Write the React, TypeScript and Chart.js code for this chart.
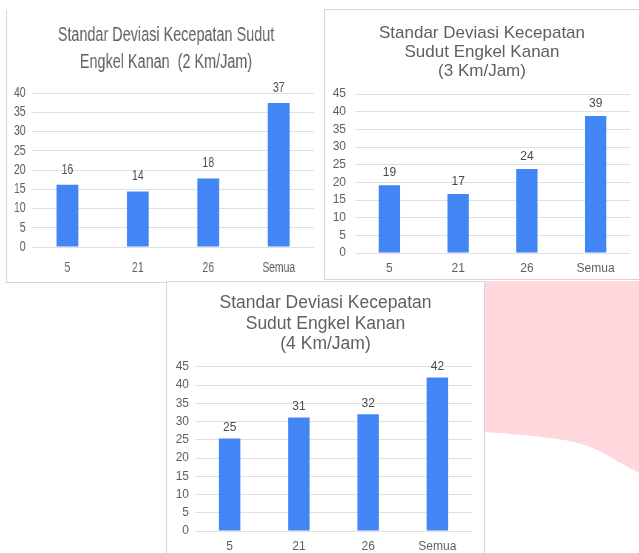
import React, { useEffect, useRef } from "react";
import { Chart, registerables } from "chart.js";

Chart.register(...registerables);

const categories = ["5", "21", "26", "Semua"];
const values2kmh = [16.2, 14.4, 17.8, 37.4];
const values3kmh = [19.2, 16.7, 23.8, 38.8];
const values4kmh = [25.4, 31.1, 32.0, 42.1];
const title2kmh = ["Standar Deviasi Kecepatan Sudut", "Engkel Kanan  (2 Km/Jam)"];
const title3kmh = ["Standar Deviasi Kecepatan", "Sudut Engkel Kanan", "(3 Km/Jam)"];
const title4kmh = ["Standar Deviasi Kecepatan", "Sudut Engkel Kanan", "(4 Km/Jam)"];
const yMax2kmh = 40;
const yMax3kmh = 45;
const yMax4kmh = 45;
const yStep = 5;

const BAR_COLOR = "#4285F4";
const GRID_COLOR = "#e0e0e0";
const TEXT_COLOR = "#5f5f5f";
const BORDER = "1px solid #d6d6d6";
const SANS = "'Liberation Sans', Arial, sans-serif";

type Spec = {
  width: number;
  height: number;
  cssWidth: number;
  title: string[];
  values: number[];
  yMax: number;
  titleSize: number;
  titleLH: number;
  titlePadTop: number;
  titlePadBottom: number;
  padRight: number;
  yWidth: number;
  yPad: number;
  xHeight: number;
  xPad: number;
  tickSize: number;
  labelSize: number;
  labelOffset: number;
};

const valueLabels = {
  id: "valueLabels",
  afterDatasetsDraw(chart: any, _args: any, opts: any) {
    const ctx = chart.ctx;
    ctx.save();
    ctx.font = `normal ${opts.size}px ${SANS}`;
    ctx.fillStyle = opts.color;
    ctx.textAlign = "center";
    ctx.textBaseline = "middle";
    chart.data.datasets.forEach((ds: any, di: number) => {
      const meta = chart.getDatasetMeta(di);
      meta.data.forEach((bar: any, i: number) => {
        ctx.fillText(String(Math.round(ds.data[i])), bar.x, bar.y - opts.offset);
      });
    });
    ctx.restore();
  },
};

// center the title over the whole canvas rather than the padded layout box
const centerTitle = {
  id: "centerTitle",
  afterLayout(chart: any) {
    const t = chart.titleBlock;
    if (t) {
      t.left = 0;
      t.right = chart.width;
      t.width = chart.width;
    }
  },
};

function BarChart({ spec }: { spec: Spec }) {
  const ref = useRef<HTMLCanvasElement>(null);
  useEffect(() => {
    if (!ref.current) return;
    const chart = new Chart(ref.current, {
      type: "bar",
      data: {
        labels: categories,
        datasets: [
          {
            data: spec.values,
            backgroundColor: BAR_COLOR,
            barPercentage: 0.62,
            categoryPercentage: 0.5,
          },
        ],
      },
      plugins: [valueLabels, centerTitle],
      options: {
        responsive: false,
        animation: false,
        layout: {
          padding: { left: 0, right: spec.padRight, top: 0, bottom: 0 },
        },
        plugins: {
          legend: { display: false },
          tooltip: { enabled: false },
          title: {
            display: true,
            text: spec.title,
            color: TEXT_COLOR,
            font: { family: SANS, size: spec.titleSize, weight: "normal", lineHeight: spec.titleLH },
            padding: { top: spec.titlePadTop, bottom: spec.titlePadBottom },
          },
          valueLabels: {
            size: spec.labelSize,
            color: "#4a4a4a",
            offset: spec.labelOffset,
          },
        } as any,
        scales: {
          x: {
            grid: { display: false, drawTicks: false },
            border: { display: false },
            ticks: {
              color: TEXT_COLOR,
              padding: spec.xPad,
              autoSkip: false,
              maxRotation: 0,
              font: { family: SANS, size: spec.tickSize },
            },
            afterFit: (s: any) => {
              s.height = spec.xHeight;
            },
          },
          y: {
            min: 0,
            max: spec.yMax,
            grid: { color: GRID_COLOR, drawTicks: false },
            border: { display: false },
            ticks: {
              stepSize: yStep,
              autoSkip: false,
              color: TEXT_COLOR,
              padding: spec.yPad,
              font: { family: SANS, size: spec.tickSize },
            },
            afterFit: (s: any) => {
              s.width = spec.yWidth;
            },
          },
        },
      } as any,
    });
    return () => chart.destroy();
  }, [spec]);
  return (
    <canvas
      ref={ref}
      width={spec.width}
      height={spec.height}
      style={{ display: "block", width: spec.cssWidth + "px", height: spec.height + "px" }}
    />
  );
}

// first chart is horizontally condensed in the reference: draw wider, display narrower
const SX = 0.74;

const spec2: Spec = {
  width: Math.round(318 / SX),
  height: 272,
  cssWidth: 318,
  title: title2kmh,
  values: values2kmh,
  yMax: yMax2kmh,
  titleSize: 19.5,
  titleLH: 1.4,
  titlePadTop: 11.5,
  titlePadBottom: 17,
  padRight: Math.round(11 / SX),
  yWidth: Math.round(25 / SX),
  yPad: Math.round(7 / SX),
  xHeight: 35,
  xPad: 13,
  tickSize: 14,
  labelSize: 14,
  labelOffset: 15,
};

const spec3: Spec = {
  width: 314,
  height: 269,
  cssWidth: 314,
  title: title3kmh,
  values: values3kmh,
  yMax: yMax3kmh,
  titleSize: 17,
  titleLH: 1.12,
  titlePadTop: 13.5,
  titlePadBottom: 13.4,
  padRight: 9,
  yWidth: 30,
  yPad: 9,
  xHeight: 26,
  xPad: 8,
  tickSize: 12,
  labelSize: 12,
  labelOffset: 12,
};

const spec4: Spec = {
  width: 317,
  height: 271,
  cssWidth: 317,
  title: title4kmh,
  values: values4kmh,
  yMax: yMax4kmh,
  titleSize: 17.5,
  titleLH: 1.17,
  titlePadTop: 11,
  titlePadBottom: 12.5,
  padRight: 12,
  yWidth: 28,
  yPad: 6,
  xHeight: 22,
  xPad: 8,
  tickSize: 12,
  labelSize: 12,
  labelOffset: 11,
};

export default function App() {
  return (
    <div
      style={{
        position: "fixed",
        left: 0,
        top: 0,
        width: 639,
        height: 553,
        background: "#ffffff",
        overflow: "hidden",
      }}
    >
      <svg width={154} height={200} style={{ position: "absolute", left: 485, top: 281 }}>
        <path d="M0 0 H154 V192 C140 185 120 172 105 166 C90 159 60 155 0 151 Z" fill="#ffd7dc" />
      </svg>
      <div
        style={{
          position: "absolute",
          left: 6,
          top: 10,
          borderLeft: BORDER,
          borderBottom: BORDER,
          background: "#fff",
        }}
      >
        <BarChart spec={spec2} />
      </div>
      <div
        style={{
          position: "absolute",
          left: 324,
          top: 9,
          borderLeft: BORDER,
          borderTop: BORDER,
          borderBottom: BORDER,
          background: "#fff",
        }}
      >
        <BarChart spec={spec3} />
      </div>
      <div
        style={{
          position: "absolute",
          left: 166,
          top: 281,
          borderLeft: BORDER,
          borderTop: BORDER,
          borderRight: BORDER,
          background: "#fff",
        }}
      >
        <BarChart spec={spec4} />
      </div>
    </div>
  );
}
